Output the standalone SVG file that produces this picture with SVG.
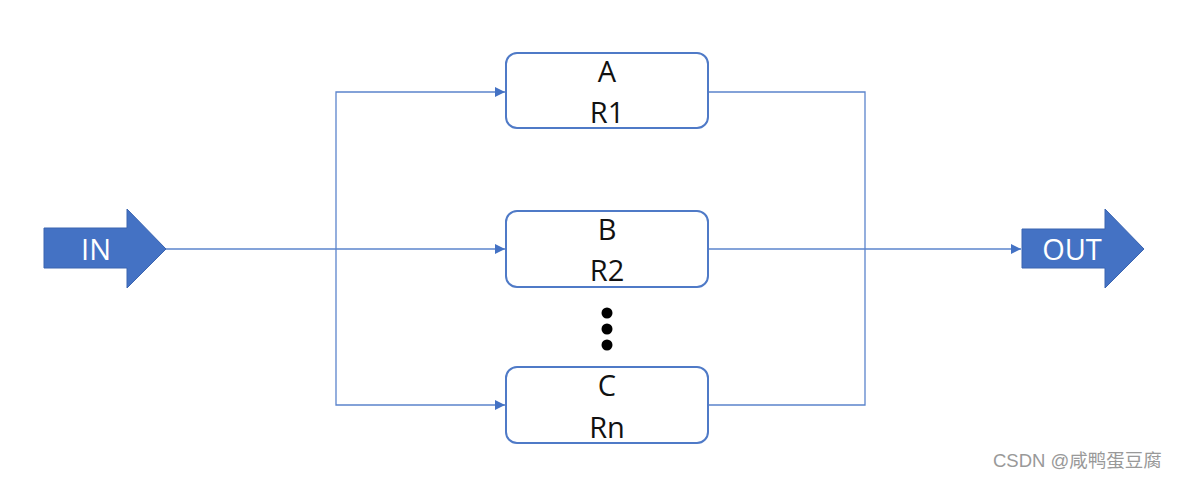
<svg xmlns="http://www.w3.org/2000/svg" width="1179" height="480" viewBox="0 0 1179 480">
<style>
.box{fill:#fff;stroke:#4f7ac7;stroke-width:2}
.lbl{font-family:"Open Sans","Liberation Sans",sans-serif;font-size:29px;fill:#111;text-anchor:middle}
.big{fill:#4472c4;stroke:#3a64b0;stroke-width:1}
.bl{font-family:"Open Sans","Liberation Sans",sans-serif;font-size:29px;fill:#fff;text-anchor:middle}
.ln{fill:none;stroke:#5b84cc;stroke-width:1.3}
</style>
<defs>
<marker id="ah" viewBox="0 0 10 10" refX="10" refY="5" markerWidth="10" markerHeight="10" markerUnits="userSpaceOnUse" orient="auto">
<path d="M0,0 L10,5 L0,10 z" fill="#4472c4"/>
</marker>
</defs>
<rect width="1179" height="480" fill="#fff"/>
<g id="connectors">
<path class="ln" d="M166,249 H505" marker-end="url(#ah)"/>
<path class="ln" d="M336,249 V92 H505" marker-end="url(#ah)"/>
<path class="ln" d="M336,249 V405 H505" marker-end="url(#ah)"/>
<path class="ln" d="M708,92 H865 V405 H708"/>
<path class="ln" d="M708,249 H1021" marker-end="url(#ah)"/>
</g>
<g id="in">
<path class="big" d="M44,228 H127 V209 L166,249 L127,288 V268 H44 z"/>
<text class="bl" x="96" y="260">IN</text>
</g>
<g id="out">
<path class="big" d="M1022,229 H1105 V209 L1144,249 L1105,288 V268 H1022 z"/>
<text class="bl" x="1072" y="260">OUT</text>
</g>
<g id="nodeA">
<rect class="box" x="506" y="53" width="202" height="75" rx="11"/>
<text class="lbl" x="607" y="82">A</text>
<text class="lbl" x="607" y="123">R1</text>
</g>
<g id="nodeB">
<rect class="box" x="506" y="211" width="202" height="76" rx="11"/>
<text class="lbl" x="607" y="240">B</text>
<text class="lbl" x="607" y="281">R2</text>
</g>
<g id="dots" fill="#000">
<circle cx="607" cy="313" r="5.5"/>
<circle cx="607" cy="329" r="5.5"/>
<circle cx="607" cy="345" r="5.5"/>
</g>
<g id="nodeC">
<rect class="box" x="506" y="367" width="202" height="76" rx="11"/>
<text class="lbl" x="607" y="396">C</text>
<text class="lbl" x="607" y="438">Rn</text>
</g>
<text x="993" y="467" font-family="'Liberation Sans','Noto Sans CJK SC',sans-serif" font-size="18.5" fill="#999">CSDN @咸鸭蛋豆腐</text>
</svg>
